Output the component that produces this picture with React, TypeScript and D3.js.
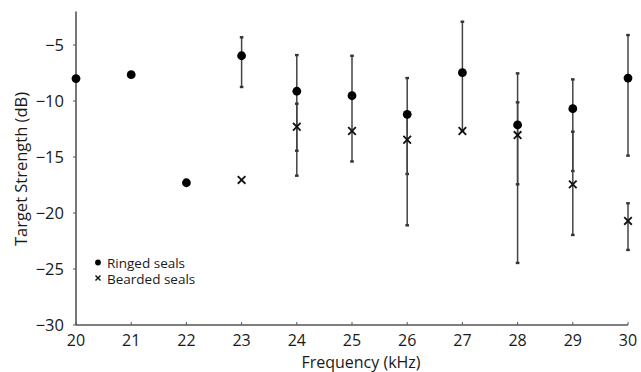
import React from 'react'
import { scaleLinear } from 'd3'

const freqs = [20, 21, 22, 23, 24, 25, 26, 27, 28, 29, 30]

// ringed seals: mean + error bar ends (null = no bar)
const ringedMean = [-8.0, -7.65, -17.3, -5.96, -9.13, -9.53, -11.19, -7.47, -12.14, -10.69, -7.95]
const ringedLo = [null, null, null, -8.75, -16.67, -15.4, -16.52, -12.68, -24.46, -16.25, -14.88]
const ringedHi = [null, null, null, -4.31, -5.9, -5.96, -7.95, -2.92, -7.53, -8.07, -4.11]

// bearded seals
const beardedMean = [null, null, null, -17.05, -12.3, -12.68, -13.46, -12.68, -13.04, -17.44, -20.71]
const beardedLo = [null, null, null, null, -14.44, null, -21.1, null, -17.44, -21.96, -23.3]
const beardedHi = [null, null, null, null, -10.24, null, -11.4, null, -10.12, -12.74, -19.13]

const yTicks = [-30, -25, -20, -15, -10, -5]

const font = '"Open Sans", "Noto Sans", sans-serif'
const axisColor = '#555'
const textColor = '#1a1a1a'

const fmt = (v: number) => (v < 0 ? '\u2212' + Math.abs(v) : String(v))

const Cross = ({ x, y, s, w = 1.8 }: { x: number; y: number; s: number; w?: number }) => (
    <g stroke="#111" strokeWidth={w}>
        <line x1={x - s} x2={x + s} y1={y - s} y2={y + s}></line>
        <line x1={x - s} x2={x + s} y1={y + s} y2={y - s}></line>
    </g>
)

const ErrBar = ({ x, y1, y2 }: { x: number; y1: number; y2: number }) => (
    <g>
        <line x1={x} x2={x} y1={y1} y2={y2} stroke="#444" strokeWidth={1.5}></line>
        <rect x={x - 1.8} y={y1 - 1.2} width={3.6} height={2.4} fill="#333"></rect>
        <rect x={x - 1.8} y={y2 - 1.2} width={3.6} height={2.4} fill="#333"></rect>
    </g>
)

export default function App() {
    const width = 641
    const height = 372
    const x = scaleLinear().domain([20, 30]).range([76, 628])
    const y = scaleLinear().domain([-30, -2]).range([325, 11.4])

    return (
        <svg width={width} height={height} style={{ position: 'absolute', left: 0, top: 0, background: '#fff' }}>
            {/* axes */}
            <line x1={x(20)} x2={x(20)} y1={y(-30)} y2={y(-2)} stroke={axisColor} strokeWidth={1.6}></line>
            <line x1={x(20)} x2={x(30)} y1={y(-30)} y2={y(-30)} stroke={axisColor} strokeWidth={1.6}></line>
            {yTicks.map(t =>
                <g key={'y' + t}>
                    <line x1={x(20) - 3} x2={x(20)} y1={y(t)} y2={y(t)} stroke={axisColor} strokeWidth={1}></line>
                    <text x={64} y={y(t)} dy="0.36em" textAnchor="end" fontFamily={font} fontSize={16.5} fill={textColor}>{fmt(t)}</text>
                </g>
            )}
            {freqs.map(f =>
                <g key={'x' + f}>
                    <line x1={x(f)} x2={x(f)} y1={y(-30)} y2={y(-30) - 3} stroke={axisColor} strokeWidth={1}></line>
                    <text x={x(f)} y={346} textAnchor="middle" fontFamily={font} fontSize={16} fill={textColor}>{f}</text>
                </g>
            )}
            <text x={361} y={367.5} textAnchor="middle" fontFamily={font} fontSize={16} fill={textColor}>Frequency (kHz)</text>
            <text transform={`translate(27,169) rotate(-90)`} textAnchor="middle" fontFamily={font} fontSize={16.5} fill={textColor}>Target Strength (dB)</text>

            {/* error bars */}
            {freqs.map((f, i) =>
                <g key={'e' + f}>
                    {ringedLo[i] !== null && <ErrBar x={x(f)} y1={y(ringedLo[i] as number)} y2={y(ringedHi[i] as number)} />}
                    {beardedLo[i] !== null && <ErrBar x={x(f)} y1={y(beardedLo[i] as number)} y2={y(beardedHi[i] as number)} />}
                </g>
            )}

            {/* points */}
            {freqs.map((f, i) =>
                <g key={'p' + f}>
                    <circle cx={x(f)} cy={y(ringedMean[i])} r={4.4} fill="#000"></circle>
                    {beardedMean[i] !== null && <Cross x={x(f)} y={y(beardedMean[i] as number)} s={3.8} />}
                </g>
            )}

            {/* legend */}
            <circle cx={98} cy={262.5} r={2.9} fill="#000"></circle>
            <text x={107} y={267.5} fontFamily={font} fontSize={13.5} fill={textColor}>Ringed seals</text>
            <Cross x={98} y={278} s={2.5} w={1.4} />
            <text x={107} y={284} fontFamily={font} fontSize={13.5} fill={textColor}>Bearded seals</text>
        </svg>
    )
}
